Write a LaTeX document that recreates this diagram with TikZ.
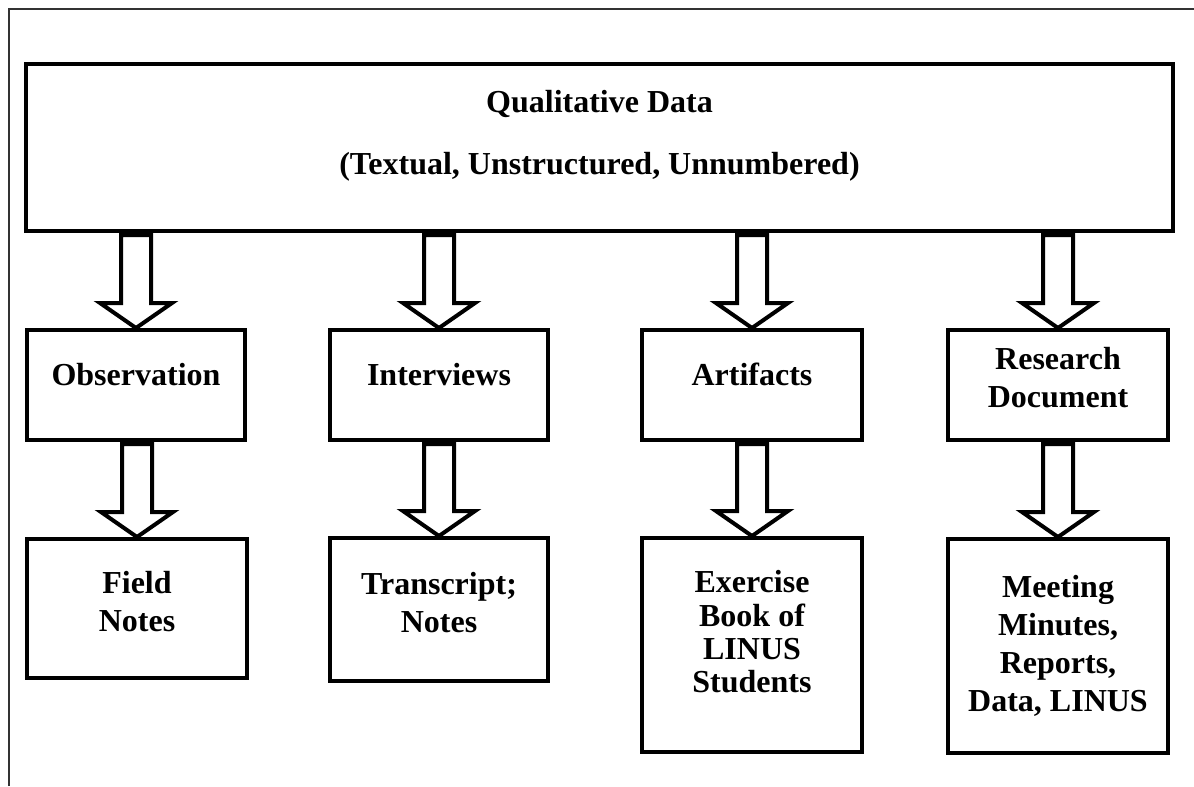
\documentclass[tikz,border=0pt]{standalone}
\usepackage{fontspec}
\setmainfont{Liberation Serif}
\usetikzlibrary{calc}

\tikzset{every picture/.style={line width=0.75pt}}
\tikzset{
	databox/.style={draw, rectangle, line width=3pt, align=center, inner sep=0pt,
		font=\bfseries\fontsize{24pt}{28.5pt}\selectfont},
	blockarrow/.style={draw, line width=3pt, line join=miter},
	frameline/.style={draw=black!80, line width=1.4pt},
}
% hollow block arrow from the bottom of #1 to the top of #2
\newcommand{\flowarrow}[2]{%
	\draw [blockarrow] ($(#1.south -| #2.north)+(-15,2)$) -- ($(#2.north)+(-15,-25)$)
		-- ($(#2.north)+(-36,-25)$) -- (#2.north) -- ($(#2.north)+(36,-25)$)
		-- ($(#2.north)+(15,-25)$) -- ($(#1.south -| #2.north)+(15,2)$) -- cycle ;
}

\begin{document}
\begin{tikzpicture}[x=0.75pt,y=0.75pt,yscale=-1,xscale=1]
	\useasboundingbox (0,0) rectangle (1194,786);

	%Outer frame
	\draw [frameline] (9,786) -- (9,9) -- (1194,9) ;

	% Top box
	\node [databox, minimum width=860.25pt, minimum height=125.25pt, text depth=23pt] (qual) at (599.5,147.5)
		{Qualitative Data\\[18pt](Textual, Unstructured, Unnumbered)};

	% Sources
	\node [databox, minimum width=163.5pt, minimum height=82.5pt, text depth=16pt] (obs) at (136,385) {Observation};
	\node [databox, minimum width=163.5pt, minimum height=82.5pt, text depth=16pt] (intv) at (439,385) {Interviews};
	\node [databox, minimum width=165pt, minimum height=82.5pt, text depth=16pt] (art) at (752,385) {Artifacts};
	\node [databox, minimum width=165pt, minimum height=82.5pt, text depth=11pt] (rdoc) at (1058,385) {Research\\Document};

	% Records
	\node [databox, minimum width=165pt, minimum height=104.25pt, text depth=10pt] (field) at (137,608.5) {Field\\Notes};
	\node [databox, minimum width=163.5pt, minimum height=107.25pt, text depth=10pt] (trans) at (439,609.5) {Transcript;\\Notes};
	\node [databox, minimum width=165pt, minimum height=160.5pt, text depth=20pt,
		font=\bfseries\fontsize{24pt}{25pt}\selectfont] (exer) at (752,645) {Exercise\\Book of\\LINUS\\Students};
	\node [databox, minimum width=165pt, minimum height=160.5pt] (meet) at (1058,646) {Meeting\\Minutes,\\Reports,\\Data, LINUS};

	% Block arrows
	\flowarrow{qual}{obs}
	\flowarrow{qual}{intv}
	\flowarrow{qual}{art}
	\flowarrow{qual}{rdoc}
	\flowarrow{obs}{field}
	\flowarrow{intv}{trans}
	\flowarrow{art}{exer}
	\flowarrow{rdoc}{meet}

\end{tikzpicture}
\end{document}
